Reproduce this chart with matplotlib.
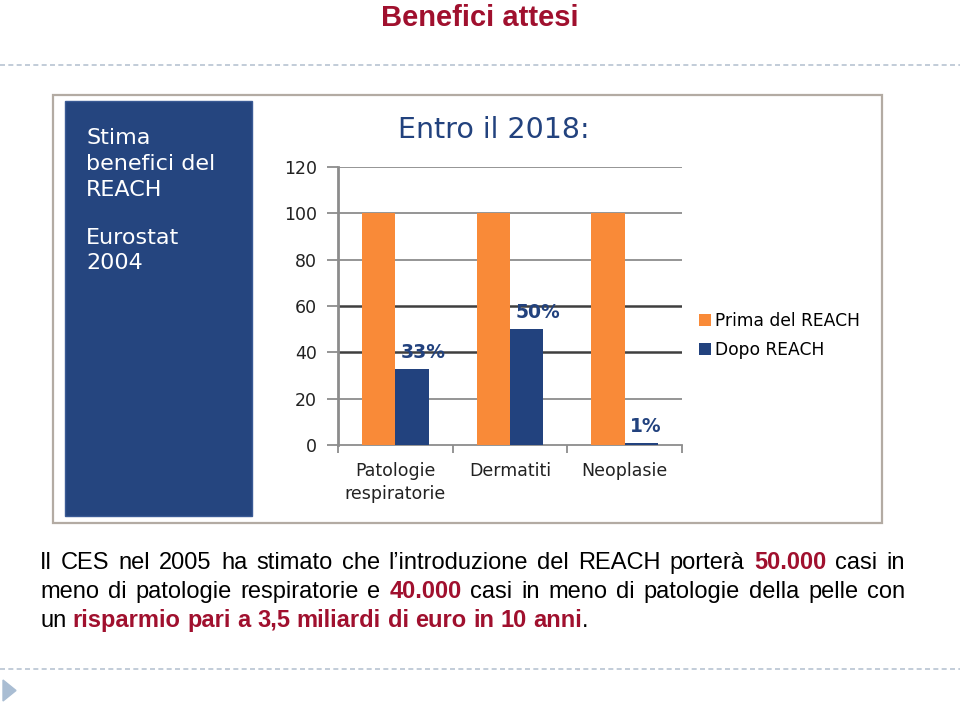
import matplotlib
matplotlib.use('Agg')
import matplotlib.pyplot as plt
from matplotlib.patches import Rectangle, Polygon
from matplotlib.lines import Line2D
import numpy as np

W, H = 960, 703

categories = ['Patologie\nrespiratorie', 'Dermatiti', 'Neoplasie']
prima_reach = [100, 100, 100]
dopo_reach = [33, 50, 1]
dopo_labels = ['33%', '50%', '1%']
y_ticks = [0, 20, 40, 60, 80, 100, 120]
series_names = ['Prima del REACH', 'Dopo REACH']

panel_lines = ['Stima', 'benefici del', 'REACH', 'Eurostat', '2004']

# (text, highlighted) runs for each line of the note under the chart
note_lines = [
    [("Il CES nel 2005 ha stimato che l\u2019introduzione del REACH porterà ", False),
     ("50.000", True), (" casi in", False)],
    [("meno di patologie respiratorie e ", False), ("40.000", True),
     (" casi in meno di patologie della pelle con", False)],
    [("un ", False), ("risparmio pari a 3,5 miliardi di euro in 10 anni", True), (".", False)],
]

DARK_RED = '#A0102E'
NAVY = '#22427E'
PANEL = '#25457F'
ORANGE = '#F98A38'
DOTS = '#B7C4D2'


def fx(x):
    return x / W


def fy(y):
    return 1 - y / H


fig = plt.figure(figsize=(9.6, 7.03), dpi=100)
fig.patch.set_facecolor('white')

# slide title
fig.text(fx(480), fy(26), 'Benefici attesi', ha='center', va='baseline',
         fontsize=21, fontweight='bold', color=DARK_RED, family='Liberation Sans')

# dotted separators
for yy in (65, 669):
    fig.add_artist(Line2D([0, 1], [fy(yy), fy(yy)], color=DOTS, lw=1.2,
                          linestyle=(0, (3, 2))))

# small triangle bottom-left
fig.add_artist(Polygon([[fx(3), fy(680)], [fx(3), fy(701)], [fx(16), fy(690.5)]],
                       closed=True, color='#A9BDD3', transform=fig.transFigure))

# picture frame and blue side panel (behind the axes)
fig.add_artist(Rectangle((fx(53), fy(523)), fx(882 - 53), (523 - 95) / H,
                         transform=fig.transFigure, facecolor='white',
                         edgecolor='#B3ABA3', lw=1.6, zorder=-3))
fig.add_artist(Rectangle((fx(65), fy(516)), fx(252 - 65), (516 - 101) / H,
                         transform=fig.transFigure, facecolor=PANEL,
                         edgecolor='#3A5A95', lw=1, zorder=-2))

panel_baselines = [144, 170, 196, 244, 269]
for txt, yb in zip(panel_lines, panel_baselines):
    fig.text(fx(86), fy(yb), txt, ha='left', va='baseline', color='white',
             fontsize=16, family='DejaVu Sans')

fig.text(fx(398), fy(138), 'Entro il 2018:', ha='left', va='baseline',
         color=NAVY, fontsize=20.5, family='DejaVu Sans')

# chart axes
ax = fig.add_axes([fx(338), fy(445), fx(682 - 338), (445 - 167) / H])
ax.set_facecolor('none')
x = np.arange(len(categories))
bw = 0.29
ax.bar(x - bw / 2, prima_reach, bw, color=ORANGE, label=series_names[0], zorder=3)
ax.bar(x + bw / 2, dopo_reach, bw, color=NAVY, label=series_names[1], zorder=3)

for xi, v, lab in zip(x, dopo_reach, dopo_labels):
    ax.text(xi + 0.05, v + 7, lab, ha='left', va='center', color=NAVY,
            fontsize=13.5, fontweight='bold', family='DejaVu Sans', zorder=4)

ax.set_xlim(-0.5, 2.5)
ax.set_ylim(0, 120)
ax.set_yticks(y_ticks)
ax.set_yticklabels([str(t) for t in y_ticks], fontsize=12.5, family='DejaVu Sans',
                   color='#222222')
for t in y_ticks[1:]:
    dark = t in (40, 60)
    ax.axhline(t, color='#3F3F3F' if dark else '#8C8C8C', lw=1.8 if dark else 1.3,
               zorder=1)
ax.tick_params(axis='y', length=8, width=1.3, color='#8C8C8C', pad=7)

ax.set_xticks([-0.5, 0.5, 1.5, 2.5])
ax.set_xticklabels([])
ax.set_xticks(x, minor=True)
ax.set_xticklabels(categories, minor=True, fontsize=12.5, family='DejaVu Sans',
                   color='#222222', linespacing=1.4)
ax.tick_params(axis='x', which='major', length=6, width=1.3, color='#8C8C8C')
ax.tick_params(axis='x', which='minor', length=0, pad=12)

for side in ('top', 'right'):
    ax.spines[side].set_visible(False)
ax.spines['left'].set_color('#8C8C8C')
ax.spines['left'].set_linewidth(2)
ax.spines['bottom'].set_color('#8C8C8C')
ax.spines['bottom'].set_linewidth(1.3)

ax.legend(loc='upper left', bbox_to_anchor=(fx(699), fy(312)),
          bbox_transform=fig.transFigure, frameon=False,
          prop={'family': 'DejaVu Sans', 'size': 12.3}, handlelength=0.7,
          handleheight=0.7, handletextpad=0.25, labelspacing=0.62,
          borderaxespad=0, borderpad=0)

# justified note text
renderer = fig.canvas.get_renderer()


def to_words(runs):
    words = [[]]
    for text, hl in runs:
        parts = text.split(' ')
        for i, p in enumerate(parts):
            if i > 0:
                words.append([])
            if p:
                words[-1].append((p, hl))
    return [w for w in words if w]


x0, x1 = 40, 905
note_baselines = [569, 598, 627]
justify = [True, True, False]
note_size = 17
space_t = fig.text(0, 0, 'a a', fontsize=note_size, family='Liberation Sans')
aa_t = fig.text(0, 0, 'aa', fontsize=note_size, family='Liberation Sans')
space_w = space_t.get_window_extent(renderer).width - aa_t.get_window_extent(renderer).width
space_t.remove()
aa_t.remove()

for runs, yb, just in zip(note_lines, note_baselines, justify):
    words = to_words(runs)
    placed = []
    for word in words:
        pieces = []
        for piece, hl in word:
            t = fig.text(0, fy(yb), piece, ha='left', va='baseline',
                         fontsize=note_size, family='Liberation Sans',
                         color=DARK_RED if hl else 'black',
                         fontweight='bold' if hl else 'normal')
            pieces.append((t, t.get_window_extent(renderer).width))
        placed.append(pieces)
    widths = [sum(w for _, w in p) for p in placed]
    if just and len(placed) > 1:
        gap = (x1 - x0 - sum(widths)) / (len(placed) - 1)
    else:
        gap = space_w
    xc = x0
    for pieces, wsum in zip(placed, widths):
        xp = xc
        for t, w in pieces:
            t.set_x(fx(xp))
            xp += w
        xc += wsum + gap

fig.savefig('out.png', dpi=100)
